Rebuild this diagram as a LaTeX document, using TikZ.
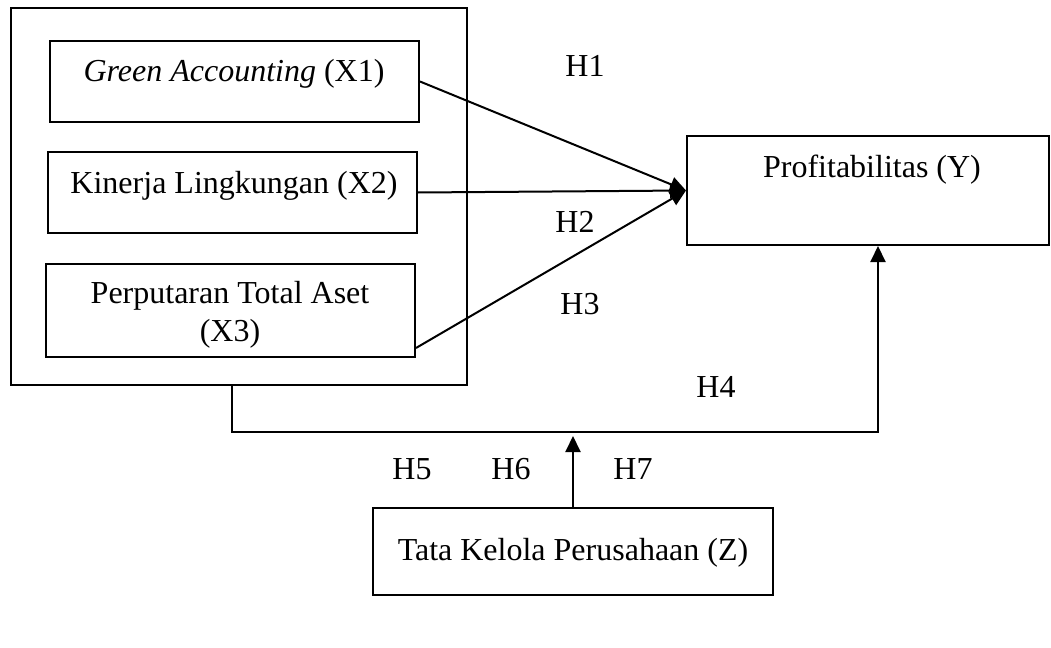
\documentclass[tikz,border=0pt]{standalone}
\usepackage{fontspec}
\setmainfont{Liberation Serif}
\usetikzlibrary{arrows.meta,calc}
\begin{document}
\begin{tikzpicture}[x=0.5pt, y=-0.5pt,
  box/.style={draw, line width=1pt, inner sep=0pt},
  lbl/.style={font=\fontsize{16}{19}\selectfont, inner sep=0pt},
  link/.style={line width=1pt, -{Triangle[length=8pt,width=7.5pt]}}]
\useasboundingbox (0,0) rectangle (1051,648);
% outer frame and variable boxes
\node[box, minimum width=228pt, minimum height=188.5pt] (outer) at (239,196.5) {};
\node[box, minimum width=184.5pt, minimum height=40.5pt] (x1) at (234.5,81.5) {};
\node[box, minimum width=184.5pt, minimum height=40.5pt] (x2) at (232.5,192.5) {};
\node[box, minimum width=184.5pt, minimum height=46.5pt] (x3) at (230.5,310.5) {};
\node[box, minimum width=181pt, minimum height=54.5pt] (y) at (868,190.5) {};
\node[box, minimum width=200pt, minimum height=43.5pt] (z) at (573,551.5) {};
% box texts
\node[lbl, anchor=base] (x1t) at (234,81) {\textit{Green Accounting} (X1)};
\node[lbl, anchor=base] (x2t) at (234,193) {Kinerja Lingkungan (X2)};
\node[lbl, align=center] (x3t) at (230,315) {Perputaran Total Aset\\(X3)};
\node[lbl, anchor=base] (yt) at (872,177) {Profitabilitas (Y)};
\node[lbl, anchor=base] (zt) at (573,560) {Tata Kelola Perusahaan (Z)};
% arrows
\draw[link] (x1.east) -- (y.west);
\draw[link] (x2.east) -- (y.west);
\draw[link] ([yshift=5pt]x3.south east) -- (y.west);
\coordinate (h4) at (878,432);
\draw[link] ([xshift=-3.5pt]outer.south) |- (h4) -- (h4 |- y.south);
\coordinate (mod) at (573,436);
\draw[link] (z.north) -- (mod);
% hypothesis labels
\node[lbl] (h1) at (585,66) {H1};
\node[lbl] (h2) at (575,222) {H2};
\node[lbl] (h3) at (580,304) {H3};
\node[lbl] (h4l) at (716,387) {H4};
\node[lbl] (h5) at (412,469) {H5};
\node[lbl] (h6) at (511,469) {H6};
\node[lbl] (h7) at (633,469) {H7};
\end{tikzpicture}
\end{document}
